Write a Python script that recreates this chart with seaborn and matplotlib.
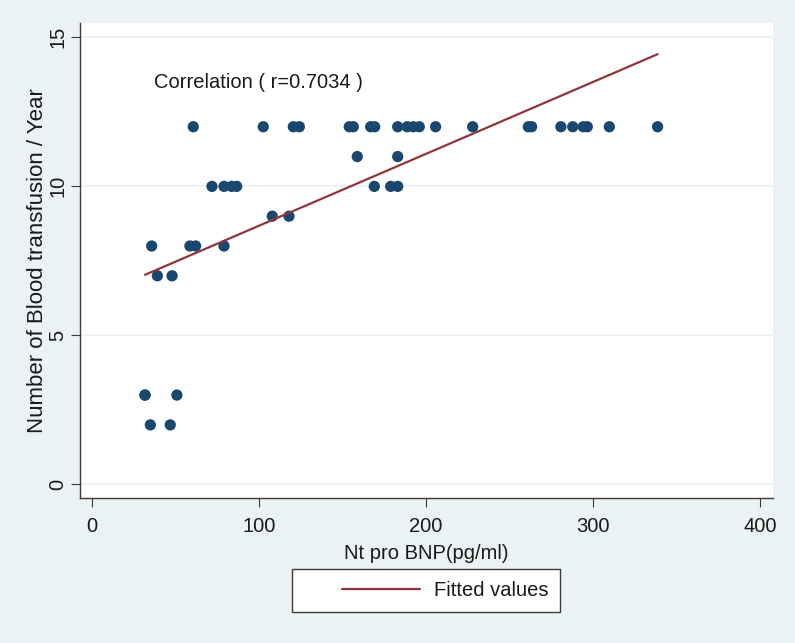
import numpy as np
import pandas as pd
import matplotlib
matplotlib.use("Agg")
import matplotlib.pyplot as plt
import seaborn as sns
from matplotlib.legend_handler import HandlerLine2D

# ---- data (one hidden overlap assumed at 31.8) ----
bnp_12 = [60.7, 102.6, 120.6, 124.2, 154.1, 156.5, 166.9, 169.3, 183.1, 188.8,
          192.4, 196.0, 205.8, 228.0, 261.3, 263.3, 280.8, 287.9, 294.2, 296.6,
          309.8, 338.7]
bnp_11 = [158.9, 183.1]
bnp_10 = [71.9, 79.1, 83.7, 86.7, 169.1, 178.9, 183.1]
bnp_9 = [108.0, 118.0]
bnp_8 = [35.8, 58.7, 62.1, 79.1]
bnp_7 = [39.2, 48.0]
bnp_3 = [31.8, 31.8, 50.9]
bnp_2 = [35.0, 46.9]

groups = {12: bnp_12, 11: bnp_11, 10: bnp_10, 9: bnp_9, 8: bnp_8,
          7: bnp_7, 3: bnp_3, 2: bnp_2}
rows = [(x, y) for y, xs in groups.items() for x in xs]
df = pd.DataFrame(rows, columns=["bnp", "transfusions"])

x_ticks = [0, 100, 200, 300, 400]
y_ticks = [0, 5, 10, 15]
annotation = "Correlation ( r=0.7034 )"
x_title = "Nt pro BNP(pg/ml)"
y_title = "Number of Blood transfusion / Year"
legend_label = "Fitted values"

# ---- style ----
BG = "#eaf2f3"
NAVY = "#1a476f"
MAROON = "#90353b"
TXT = "#1a1a1a"
AXC = "#3a3a3a"

sns.set_theme(style="white")
plt.rcParams["font.family"] = ["Liberation Sans", "DejaVu Sans"]

fig = plt.figure(figsize=(7.95, 6.43), dpi=100, facecolor=BG)
ax = fig.add_axes([80 / 795, 1 - 498.3 / 643, 693 / 795, 475.3 / 643])
ax.set_facecolor("white")

ax.set_xlim(-7.12, 407.8)
ax.set_ylim(-0.463, 15.48)
ax.set_xticks(x_ticks)
ax.set_yticks(y_ticks)

for yv in y_ticks:
    ax.axhline(yv, color=BG, lw=1.3, zorder=0)

sns.scatterplot(data=df, x="bnp", y="transfusions", ax=ax, s=66,
                color=NAVY, edgecolor="none", linewidth=0, zorder=3,
                legend=False)
n_before = len(ax.lines)
sns.regplot(data=df, x="bnp", y="transfusions", ax=ax, scatter=False,
            ci=None, truncate=True, label=legend_label,
            line_kws=dict(color=MAROON, lw=1.6, zorder=4))
fit_line = ax.lines[n_before]
fit_line.set_label(legend_label)

for s in ["top", "right"]:
    ax.spines[s].set_visible(False)
for s in ["left", "bottom"]:
    ax.spines[s].set_color(AXC)
    ax.spines[s].set_linewidth(1.0)

ax.tick_params(axis="both", which="major", direction="out", length=6.2,
               width=0.8, color=AXC, labelsize=14.5, labelcolor=TXT,
               left=True, bottom=True)
ax.tick_params(axis="x", pad=7)
ax.tick_params(axis="y", pad=3, labelrotation=90)
for lbl in ax.get_yticklabels():
    lbl.set_va("center")

ax.set_xlabel(x_title, fontsize=14.5, color=TXT, labelpad=6)
ax.set_ylabel(y_title, fontsize=16, color=TXT, labelpad=0)

ax.text(37.2, 13.5, annotation, fontsize=14.5, color=TXT,
        ha="left", va="center")


class RightLineHandler(HandlerLine2D):
    def get_xdata(self, legend, xdescent, ydescent, width, height, fontsize):
        xd = np.array([-xdescent + width * 0.33, -xdescent + width])
        return xd, xd


leg = fig.legend([fit_line], [legend_label], loc="center",
                 bbox_to_anchor=(426 / 795, 1 - 590.5 / 643),
                 fontsize=14.5, frameon=True, fancybox=False,
                 edgecolor=AXC, facecolor="white", framealpha=1,
                 handlelength=5.77, handletextpad=0.7, borderpad=0.6,
                 handler_map={fit_line: RightLineHandler()})
leg.get_frame().set_linewidth(1.0)
for t in leg.get_texts():
    t.set_color(TXT)

fig.savefig("out.png", dpi=100, facecolor=BG)
